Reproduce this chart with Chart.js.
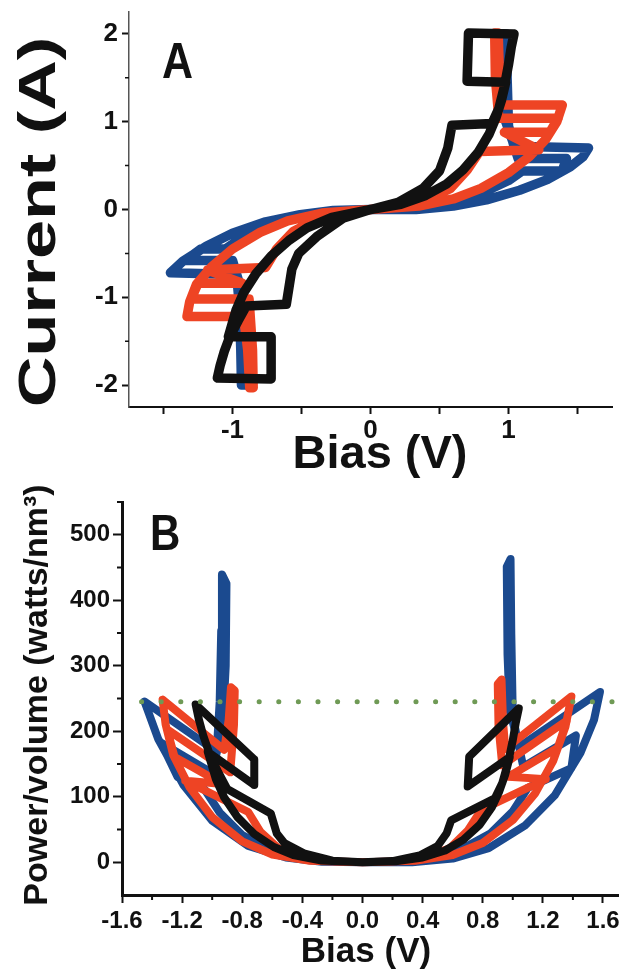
<!DOCTYPE html>
<html>
<head>
<meta charset="utf-8">
<script src="https://cdn.jsdelivr.net/npm/chart.js@4.4.1/dist/chart.umd.min.js"></script>
<style>
  html, body { margin: 0; padding: 0; background: #fff; }
  body { width: 633px; height: 969px; position: relative; overflow: hidden; }
  .panel { position: absolute; left: 0; width: 633px; }
  #panelA { top: 0; height: 490px; }
  #panelB { top: 470px; height: 499px; }
</style>
</head>
<body>
<div class="panel" id="panelA"><canvas id="ivChart"></canvas></div>
<div class="panel" id="panelB"><canvas id="powerChart"></canvas></div>
<script>
// sweep traces: bias (V), current (A) and power per volume (watts/nm^3), one entry per turning point
const blackBias = [0, 0.2, 0.38, 0.5, 0.56, 0.59, 0.88, 0.93, 0.97, 1.0, 1.02, 1.04, 0.71, 0.70, 0.98, 0.95, 0.91, 0.86, 0.78, 0.67, 0.55, 0.4, 0.22, 0,
  -0.2, -0.39, -0.52, -0.57, -0.61, -0.90, -0.96, -1.02, -1.06, -1.09, -1.11, -0.72, -0.72, -1.03, -0.975, -0.92, -0.83, -0.72, -0.59, -0.46, -0.28, 0];
const blackCurrent = [0, 0.08, 0.24, 0.44, 0.7, 0.96, 0.98, 1.15, 1.4, 1.65, 1.85, 2.0, 2.01, 1.46, 1.45, 1.25, 1.05, 0.86, 0.65, 0.45, 0.29, 0.16, 0.06, 0,
  -0.1, -0.31, -0.5, -0.68, -1.08, -1.10, -1.27, -1.45, -1.62, -1.78, -1.92, -1.93, -1.45, -1.45, -1.15, -0.95, -0.73, -0.53, -0.35, -0.21, -0.09, 0];
const blackPower = [0, 1.8, 10.3, 24.9, 44.3, 64.0, 97.5, 120.9, 153.5, 186.5, 213.2, 235.0, 161.3, 115.5, 160.6, 134.2, 108.0, 83.6, 57.3, 34.1, 18.0, 7.2, 1.5, 0,
  2.3, 13.7, 29.4, 43.8, 74.4, 111.9, 137.8, 167.1, 194.0, 219.2, 240.8, 157.0, 118.0, 168.8, 126.7, 98.8, 68.5, 43.1, 23.3, 10.9, 2.8, 0];

const redBias = [0, 0.35, 0.6, 0.8, 1.0, 1.15, 1.27, 1.35, 1.39, 0.95, 0.935, 0.925, 0.9, 0.905, 0.93, 1.36, 1.30, 0.97, 1.22, 0.79, 0.7, 0.58, 0.42, 0.22, 0,
  -0.35, -0.6, -0.8, -1.0, -1.15, -1.26, -1.31, -1.33, -0.92, -0.89, -0.875, -0.85, -0.855, -0.88, -1.30, -1.25, -0.93, -1.18, -0.76, -0.68, -0.56, -0.4, -0.2, 0];
const redCurrent = [0, 0.04, 0.12, 0.24, 0.42, 0.6, 0.8, 1.0, 1.19, 1.19, 1.5, 2.01, 2.01, 1.5, 1.04, 1.04, 0.88, 0.88, 0.68, 0.66, 0.45, 0.24, 0.12, 0.04, 0,
  -0.04, -0.13, -0.26, -0.45, -0.65, -0.85, -1.05, -1.22, -1.22, -1.6, -2.03, -2.03, -1.6, -1.02, -1.02, -0.84, -0.84, -0.69, -0.66, -0.45, -0.25, -0.12, -0.04, 0];
const redPower = [0, 2.1, 11.0, 29.4, 64.3, 105.6, 155.4, 206.6, 253.1, 173.0, 214.6, 279, 272, 207.7, 148.0, 216.4, 175.0, 130.6, 126.9, 79.8, 48.2, 21.3, 7.7, 1.3, 0,
  2.1, 11.9, 31.8, 68.9, 114.4, 163.9, 210.5, 248.3, 171.7, 217.9, 267, 262, 209.3, 137.3, 202.9, 160.7, 119.5, 124.6, 76.7, 46.8, 21.4, 7.3, 1.2, 0];

const blueBias = [0, 0.33, 0.6, 0.84, 1.08, 1.28, 1.45, 1.54, 1.58, 1.04, 1.0, 0.99, 0.985, 0.96, 0.965, 0.98, 1.03, 1.07, 1.42, 1.39, 1.1, 1.0, 0.85, 0.6, 0.3, 0,
  -0.27, -0.51, -0.76, -1.0, -1.19, -1.36, -1.45, -0.97, -0.95, -0.94, -0.935, -0.905, -0.91, -0.93, -1.0, -1.34, -1.23, -1.05, -0.95, -0.8, -0.55, -0.3, 0];
const blueCurrent = [0, 0.0, 0.04, 0.11, 0.22, 0.34, 0.49, 0.6, 0.7, 0.72, 0.95, 1.5, 2.0, 2.0, 1.4, 1.0, 0.78, 0.58, 0.58, 0.44, 0.44, 0.33, 0.22, 0.09, 0.02, 0,
  -0.01, -0.06, -0.14, -0.27, -0.42, -0.59, -0.72, -0.74, -1.1, -1.6, -2.0, -2.0, -1.4, -0.95, -0.58, -0.58, -0.45, -0.45, -0.34, -0.22, -0.09, -0.02, 0];
const bluePower = [0, 0, 5.6, 21.7, 55.8, 102.3, 167.0, 217.1, 259.9, 176.0, 223.3, 349.0, 463.0, 451.2, 317.5, 230.3, 188.8, 145.8, 193.5, 143.7, 113.7, 77.6, 43.9, 12.7, 1.4, 0,
  0.6, 7.2, 25.0, 63.5, 117.5, 188.6, 245.3, 168.7, 245.6, 353.4, 439.5, 425.4, 299.4, 207.6, 136.3, 182.6, 130.1, 111.0, 75.9, 41.4, 11.6, 1.4, 0];

// dotted reference level in panel B
const limitBias = [-1.47, 1.7];
const limitPower = [245, 245];

// axis ticks
const currentTicks = [-2, -1, 0, 1, 2];
const currentMinorTicks = [-1.5, -0.5, 0.5, 1.5];
const biasTicksA = [-1.5, -1, -0.5, 0, 0.5, 1, 1.5];
const powerTicks = [0, 100, 200, 300, 400, 500];
const powerMinorTicks = [50, 150, 250, 350, 450, 550];
const biasTicksB = [-1.6, -1.2, -0.8, -0.4, 0, 0.4, 0.8, 1.2, 1.6];
const biasMinorTicksB = [-1.4, -1.0, -0.6, -0.2, 0.2, 0.6, 1.0, 1.4];

const FAMILY = "'Liberation Sans', Arial, Helvetica, sans-serif";
const BLUE = '#1b4a8f';
const RED = '#ee4424';
const BLACK = '#111111';

function points(xs, ys) {
  return xs.map((x, i) => ({ x: x, y: ys[i] }));
}

function trace(label, xs, ys, color, width) {
  return {
    label: label,
    data: points(xs, ys),
    showLine: true,
    borderColor: color,
    backgroundColor: color,
    borderWidth: width,
    borderJoinStyle: 'round',
    borderCapStyle: 'round',
    pointRadius: 0,
    tension: 0,
    fill: false
  };
}

// axis titles and panel letters, drawn as plain canvas text
const panelText = {
  id: 'panelText',
  afterDraw(chart, args, opts) {
    const ctx = chart.ctx;
    opts.items.forEach(t => {
      ctx.save();
      ctx.translate(t.x, t.y);
      if (t.rotate) ctx.rotate(-Math.PI / 2);
      ctx.scale(t.sx || 1, t.sy || 1);
      ctx.font = 'bold ' + t.size + 'px ' + FAMILY;
      ctx.fillStyle = BLACK;
      ctx.textAlign = t.align || 'center';
      ctx.textBaseline = 'alphabetic';
      ctx.fillText(t.text, 0, 0);
      ctx.restore();
    });
  }
};

// short unlabelled ticks between the major ones
const minorTicks = {
  id: 'minorTicks',
  afterDraw(chart, args, opts) {
    const { ctx, chartArea, scales } = chart;
    ctx.save();
    ctx.strokeStyle = BLACK;
    ctx.lineWidth = opts.width;
    ctx.beginPath();
    (opts.x || []).forEach(v => {
      const px = scales.x.getPixelForValue(v);
      ctx.moveTo(px, chartArea.bottom);
      ctx.lineTo(px, chartArea.bottom + opts.length);
    });
    (opts.y || []).forEach(v => {
      const py = scales.y.getPixelForValue(v);
      ctx.moveTo(chartArea.left, py);
      ctx.lineTo(chartArea.left - opts.length, py);
    });
    ctx.stroke();
    ctx.restore();
  }
};

function axis(opts) {
  return {
    min: opts.min,
    max: opts.max,
    afterBuildTicks: s => { s.ticks = opts.ticks.map(v => ({ value: v })); },
    afterFit: s => {
      if (opts.width) s.width = opts.width;
      if (opts.height) s.height = opts.height;
      s.paddingTop = 0; s.paddingBottom = 0; s.paddingLeft = 0; s.paddingRight = 0;
    },
    ticks: {
      callback: opts.format,
      autoSkip: false,
      maxRotation: 0,
      padding: opts.padding,
      color: BLACK,
      font: { family: FAMILY, size: opts.fontSize, weight: 'bold' }
    },
    grid: {
      drawOnChartArea: false,
      drawTicks: true,
      tickLength: opts.tickLength,
      tickWidth: 2,
      tickColor: BLACK
    },
    border: { display: true, color: opts.borderColor || BLACK, width: opts.borderWidth }
  };
}

const baseOptions = {
  responsive: true,
  maintainAspectRatio: false,
  animation: false,
  devicePixelRatio: 1,
  events: []
};

new Chart(document.getElementById('ivChart'), {
  type: 'scatter',
  data: {
    datasets: [
      trace('black', blackBias, blackCurrent, BLACK, 9.5),
      trace('red', redBias, redCurrent, RED, 9.5),
      trace('blue', blueBias, blueCurrent, BLUE, 9.5)
    ]
  },
  options: Object.assign({}, baseOptions, {
    layout: { padding: { top: 12, right: 21, bottom: 0, left: 0 } },
    scales: {
      x: axis({ min: -1.75, max: 1.75, ticks: biasTicksA, height: 83, fontSize: 26, padding: 1, tickLength: 7, borderWidth: 2,
        format: v => (Number.isInteger(v) ? String(v) : '') }),
      y: axis({ min: -2.25, max: 2.25, ticks: currentTicks, width: 129, fontSize: 26, padding: 4, tickLength: 7, borderWidth: 1.5, borderColor: '#555',
        format: v => String(v) })
    },
    plugins: {
      legend: { display: false },
      tooltip: { enabled: false },
      minorTicks: { y: currentMinorTicks, length: 4, width: 1.5 },
      panelText: {
        items: [
          { text: 'A', x: 162, y: 78, size: 43, sy: 1.15, align: 'left' },
          { text: 'Bias (V)', x: 380, y: 468, size: 47 },
          { text: 'Current (A)', x: 55, y: 222, size: 52, sx: 1.35, rotate: true }
        ]
      }
    }
  }),
  plugins: [minorTicks, panelText]
});

new Chart(document.getElementById('powerChart'), {
  type: 'scatter',
  data: {
    datasets: [
      Object.assign(trace('limit', limitBias, limitPower, '#6f9a55', 5), { borderDash: [0.1, 19.5] }),
      trace('black', blackBias, blackPower, BLACK, 8),
      trace('red', redBias, redPower, RED, 8),
      trace('blue', blueBias, bluePower, BLUE, 8)
    ]
  },
  options: Object.assign({}, baseOptions, {
    layout: { padding: { top: 32, right: 15, bottom: 0, left: 0 } },
    scales: {
      x: axis({ min: -1.6, max: 1.7, ticks: biasTicksB, height: 74, fontSize: 24, padding: 4, tickLength: 8, borderWidth: 3,
        format: v => v.toFixed(1) }),
      y: axis({ min: -50, max: 550, ticks: powerTicks, width: 122, fontSize: 24, padding: 3, tickLength: 9, borderWidth: 3,
        format: v => String(v) })
    },
    plugins: {
      legend: { display: false },
      tooltip: { enabled: false },
      minorTicks: { x: biasMinorTicksB, y: powerMinorTicks, length: 5, width: 2 },
      panelText: {
        items: [
          { text: 'B', x: 150, y: 80, size: 42, sy: 1.17, align: 'left' },
          { text: 'Bias (V)', x: 366, y: 492, size: 35 },
          { text: 'Power/volume (watts/nm\u00b3)', x: 47, y: 225, size: 34, rotate: true }
        ]
      }
    }
  }),
  plugins: [minorTicks, panelText]
});
</script>
</body>
</html>
